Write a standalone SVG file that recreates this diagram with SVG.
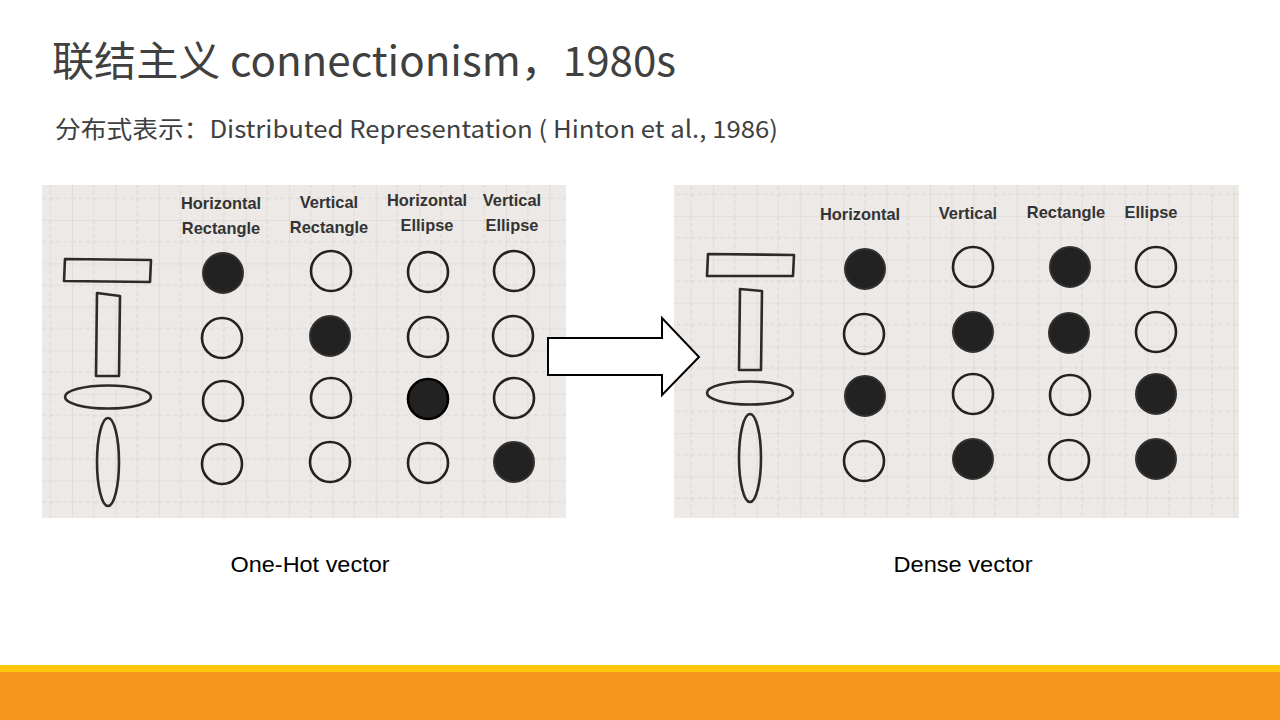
<svg xmlns="http://www.w3.org/2000/svg" width="1280" height="720" viewBox="0 0 1280 720">
  <defs>
    <style>
      .title { font-family: "Noto Sans CJK SC", "Noto Sans", sans-serif; fill: #404040; }
      .hdr { font-family: "Liberation Sans", Arial, sans-serif; font-weight: bold; font-size: 16.4px; fill: #333333; text-anchor: middle; }
      .cap { font-family: "Liberation Sans", Arial, sans-serif; font-size: 22px; fill: #000000; text-anchor: middle; }
      .shape { fill: none; stroke: #2b2b2b; stroke-width: 2.6; stroke-linejoin: round; }
      .off { fill: none; stroke: #222222; stroke-width: 2.6; }
      .on { fill: #222222; stroke: #333333; stroke-width: 2; }
      .gs { stroke: #dad5d1; stroke-width: 1.2; }
      .gd { stroke: #dad5d1; stroke-width: 1; stroke-dasharray: 4 3; }
    </style>
    <!-- sketch-paper grid: solid line every second step, dashed between -->
    <pattern id="gridL" patternUnits="userSpaceOnUse" x="28.6" y="176.6" width="43.4" height="43.4">
      <rect width="43.4" height="43.4" fill="#ece9e6"/>
      <line class="gs" x1="0" y1="0" x2="0" y2="43.4"/>
      <line class="gs" x1="0" y1="0" x2="43.4" y2="0"/>
      <line class="gd" x1="21.7" y1="0" x2="21.7" y2="43.4"/>
      <line class="gd" x1="0" y1="21.7" x2="43.4" y2="21.7"/>
    </pattern>
    <pattern id="gridR" patternUnits="userSpaceOnUse" x="713" y="216" width="43.4" height="43.4">
      <rect width="43.4" height="43.4" fill="#ece9e6"/>
      <line class="gs" x1="0" y1="0" x2="0" y2="43.4"/>
      <line class="gs" x1="0" y1="0" x2="43.4" y2="0"/>
      <line class="gd" x1="21.7" y1="0" x2="21.7" y2="43.4"/>
      <line class="gd" x1="0" y1="21.7" x2="43.4" y2="21.7"/>
    </pattern>
  </defs>

  <rect width="1280" height="720" fill="#ffffff"/>

  <!-- headings -->
  <text class="title" x="52" y="76" font-size="41" textLength="624" lengthAdjust="spacingAndGlyphs">联结主义 connectionism，1980s</text>
  <text class="title" x="55" y="138" font-size="24" textLength="723" lengthAdjust="spacingAndGlyphs">分布式表示：Distributed Representation ( Hinton et al., 1986)</text>

  <!-- one-hot panel -->
  <g id="onehot">
    <rect x="42" y="185" width="524" height="333" fill="url(#gridL)"/>
    <text class="hdr" x="221" y="209">Horizontal</text>
    <text class="hdr" x="221" y="234">Rectangle</text>
    <text class="hdr" x="329" y="208">Vertical</text>
    <text class="hdr" x="329" y="233">Rectangle</text>
    <text class="hdr" x="427" y="206">Horizontal</text>
    <text class="hdr" x="427" y="231">Ellipse</text>
    <text class="hdr" x="512" y="206">Vertical</text>
    <text class="hdr" x="512" y="231">Ellipse</text>
    <polygon class="shape" points="65,259 151,260 150,282 64,281"/>
    <polygon class="shape" points="97,293 120,296 119,376 96,376"/>
    <ellipse class="shape" cx="108" cy="397" rx="43" ry="11.5"/>
    <ellipse class="shape" cx="108" cy="462" rx="11" ry="44"/>
    <circle class="on" cx="223" cy="273" r="20"/>
    <circle class="off" cx="331" cy="271" r="20"/>
    <circle class="off" cx="428" cy="272" r="20"/>
    <circle class="off" cx="514" cy="271" r="20"/>
    <circle class="off" cx="222" cy="338" r="20"/>
    <circle class="on" cx="330" cy="336" r="20"/>
    <circle class="off" cx="428" cy="337" r="20"/>
    <circle class="off" cx="513" cy="336" r="20"/>
    <circle class="off" cx="223" cy="401" r="20"/>
    <circle class="off" cx="331" cy="398" r="20"/>
    <circle cx="428" cy="399" r="20" fill="#222222" stroke="#000000" stroke-width="2.6"/>
    <circle class="off" cx="514" cy="398" r="20"/>
    <circle class="off" cx="222" cy="464" r="20"/>
    <circle class="off" cx="330" cy="462" r="20"/>
    <circle class="off" cx="428" cy="463" r="20"/>
    <circle class="on" cx="514" cy="462" r="20"/>
    <text class="cap" x="310" y="572" textLength="159" lengthAdjust="spacingAndGlyphs">One-Hot vector</text>
  </g>

  <!-- dense panel -->
  <g id="dense">
    <rect x="674" y="185" width="565" height="333" fill="url(#gridR)"/>
    <text class="hdr" x="860" y="220">Horizontal</text>
    <text class="hdr" x="968" y="219">Vertical</text>
    <text class="hdr" x="1066" y="218">Rectangle</text>
    <text class="hdr" x="1151" y="218">Ellipse</text>
    <polygon class="shape" points="708,254 794,255 793,276 707,276"/>
    <polygon class="shape" points="740,289 762,291 761,370 739,370"/>
    <ellipse class="shape" cx="750" cy="393" rx="43" ry="11.5"/>
    <ellipse class="shape" cx="750" cy="458" rx="11" ry="44"/>
    <circle class="on" cx="865" cy="269" r="20"/>
    <circle class="off" cx="973" cy="267" r="20"/>
    <circle class="on" cx="1070" cy="267" r="20"/>
    <circle class="off" cx="1156" cy="267" r="20"/>
    <circle class="off" cx="864" cy="334" r="20"/>
    <circle class="on" cx="973" cy="332" r="20"/>
    <circle class="on" cx="1069" cy="333" r="20"/>
    <circle class="off" cx="1156" cy="332" r="20"/>
    <circle class="on" cx="865" cy="396" r="20"/>
    <circle class="off" cx="973" cy="394" r="20"/>
    <circle class="off" cx="1070" cy="395" r="20"/>
    <circle class="on" cx="1156" cy="394" r="20"/>
    <circle class="off" cx="864" cy="461" r="20"/>
    <circle class="on" cx="973" cy="459" r="20"/>
    <circle class="off" cx="1069" cy="460" r="20"/>
    <circle class="on" cx="1156" cy="459" r="20"/>
    <text class="cap" x="963" y="572" textLength="139" lengthAdjust="spacingAndGlyphs">Dense vector</text>
  </g>

  <!-- block arrow between the panels -->
  <g id="connectors">
    <polygon points="548,338 662,338 662,318 699,357 662,395 662,375 548,375" fill="#ffffff" stroke="#000000" stroke-width="2"/>
  </g>

  <!-- footer band -->
  <rect x="0" y="665" width="1280" height="7" fill="#fdc70e"/>
  <rect x="0" y="672" width="1280" height="48" fill="#f7941e"/>
</svg>
